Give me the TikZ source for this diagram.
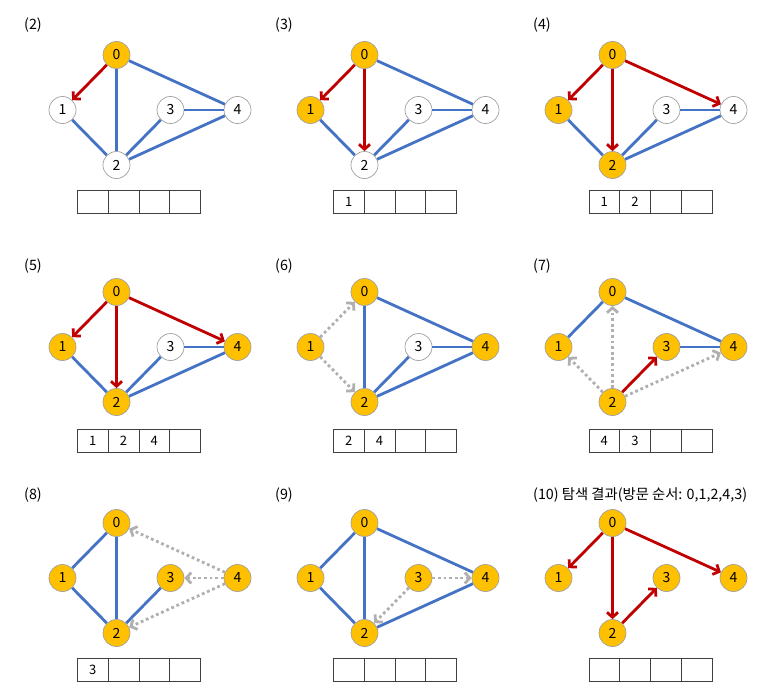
\documentclass[tikz,border=0pt]{standalone}
\usepackage{fontspec}
\setmainfont{Noto Sans CJK KR}
\usetikzlibrary{arrows.meta}
\definecolor{vorange}{HTML}{FFC000}
\definecolor{vgray}{HTML}{A0A0A0}
\definecolor{eblue}{HTML}{4472C4}
\definecolor{ered}{HTML}{C00000}
\definecolor{edot}{HTML}{B0B0B0}
\definecolor{qline}{HTML}{404040}
\tikzset{
  vx/.style={circle, draw=vgray, line width=0.7pt, minimum size=27pt, inner sep=0pt, font=\fontsize{14}{16}\selectfont},
  vis/.style={fill=vorange},
  unv/.style={fill=white},
  bl/.style={draw=eblue, line width=2.8pt},
  rd/.style={draw=ered, line width=2.8pt, -{Straight Barb[length=5pt,width=11pt]}},
  gd/.style={draw=edot, line width=2.8pt, dash pattern=on 2.8pt off 2.8pt, -{Straight Barb[length=5pt,width=11pt]}},
  cell/.style={draw=qline, line width=0.8pt, minimum width=30.75pt, minimum height=23pt, inner sep=0pt, anchor=north west, font=\fontsize{13}{15}\selectfont},
  ttl/.style={anchor=west, inner sep=0pt, font=\fontsize{14.3}{16}\selectfont},
}
\newcommand{\gnodes}[6]{%
  \node[vx,#2] (#1-0) at (0,0) {0};
  \node[vx,#3] (#1-1) at (-54,55) {1};
  \node[vx,#4] (#1-2) at (0,110) {2};
  \node[vx,#5] (#1-3) at (54,55) {3};
  \node[vx,#6] (#1-4) at (121,55) {4};}
\newcommand{\qbox}[7]{%
  \node[cell] (#1-q1) at (#2,#3) {#4};
  \node[cell] (#1-q2) at (#2+30.75,#3) {#5};
  \node[cell] (#1-q3) at (#2+61.5,#3) {#6};
  \node[cell] (#1-q4) at (#2+92.25,#3) {#7};}
\begin{document}
\begin{tikzpicture}[x=1pt,y=-1pt]
\useasboundingbox (0,0) rectangle (767,698);
% titles
\node[ttl] (t2) at (24,25) {(2)};
\node[ttl] (t3) at (275,25) {(3)};
\node[ttl] (t4) at (533,25) {(4)};
\node[ttl] (t5) at (24,266) {(5)};
\node[ttl] (t6) at (275,266) {(6)};
\node[ttl] (t7) at (533,266) {(7)};
\node[ttl] (t8) at (24,495) {(8)};
\node[ttl] (t9) at (275,495) {(9)};
\node[ttl] (t10) at (533,495) {(10) 탐색 결과(방문 순서: 0,1,2,4,3)};
% panel 2
\begin{scope}[shift={(116.5,55)}]
\gnodes{a}{vis}{unv}{unv}{unv}{unv}
\end{scope}
\draw[bl] (a-0) -- (a-2);
\draw[bl] (a-0) -- (a-4);
\draw[bl] (a-1) -- (a-2);
\draw[bl] (a-2) -- (a-3);
\draw[bl] (a-2) -- (a-4);
\draw[bl] (a-3) -- (a-4);
\draw[rd] (a-0) -- (a-1);
\qbox{a}{77}{190}{}{}{}{}
% panel 3
\begin{scope}[shift={(364.5,55)}]
\gnodes{b}{vis}{vis}{unv}{unv}{unv}
\end{scope}
\draw[bl] (b-0) -- (b-4);
\draw[bl] (b-1) -- (b-2);
\draw[bl] (b-2) -- (b-3);
\draw[bl] (b-2) -- (b-4);
\draw[bl] (b-3) -- (b-4);
\draw[rd] (b-0) -- (b-1);
\draw[rd] (b-0) -- (b-2);
\qbox{b}{333}{190}{1}{}{}{}
% panel 4
\begin{scope}[shift={(612.5,55)}]
\gnodes{c}{vis}{vis}{vis}{unv}{unv}
\end{scope}
\draw[bl] (c-1) -- (c-2);
\draw[bl] (c-2) -- (c-3);
\draw[bl] (c-2) -- (c-4);
\draw[bl] (c-3) -- (c-4);
\draw[rd] (c-0) -- (c-1);
\draw[rd] (c-0) -- (c-2);
\draw[rd] (c-0) -- (c-4);
\qbox{c}{588.5}{190}{1}{2}{}{}
% panel 5
\begin{scope}[shift={(116.5,292)}]
\gnodes{d}{vis}{vis}{vis}{unv}{vis}
\end{scope}
\draw[bl] (d-1) -- (d-2);
\draw[bl] (d-2) -- (d-3);
\draw[bl] (d-2) -- (d-4);
\draw[bl] (d-3) -- (d-4);
\draw[rd] (d-0) -- (d-1);
\draw[rd] (d-0) -- (d-2);
\draw[rd] (d-0) -- (d-4);
\qbox{d}{77}{428.5}{1}{2}{4}{}
% panel 6
\begin{scope}[shift={(364.5,292)}]
\gnodes{e}{vis}{vis}{vis}{unv}{vis}
\end{scope}
\draw[bl] (e-0) -- (e-2);
\draw[bl] (e-0) -- (e-4);
\draw[bl] (e-2) -- (e-3);
\draw[bl] (e-2) -- (e-4);
\draw[bl] (e-3) -- (e-4);
\draw[gd] (e-1) -- (e-0);
\draw[gd] (e-1) -- (e-2);
\qbox{e}{333}{428.5}{2}{4}{}{}
% panel 7
\begin{scope}[shift={(612.5,292)}]
\gnodes{f}{vis}{vis}{vis}{vis}{vis}
\end{scope}
\draw[bl] (f-0) -- (f-1);
\draw[bl] (f-0) -- (f-4);
\draw[bl] (f-3) -- (f-4);
\draw[gd] (f-2) -- (f-0);
\draw[gd] (f-2) -- (f-1);
\draw[gd] (f-2) -- (f-4);
\draw[rd] (f-2) -- (f-3);
\qbox{f}{588.5}{428.5}{4}{3}{}{}
% panel 8
\begin{scope}[shift={(116.5,523)}]
\gnodes{g}{vis}{vis}{vis}{vis}{vis}
\end{scope}
\draw[bl] (g-0) -- (g-1);
\draw[bl] (g-0) -- (g-2);
\draw[bl] (g-1) -- (g-2);
\draw[bl] (g-2) -- (g-3);
\draw[gd] (g-4) -- (g-0);
\draw[gd] (g-4) -- (g-3);
\draw[gd] (g-4) -- (g-2);
\qbox{g}{77}{658}{3}{}{}{}
% panel 9
\begin{scope}[shift={(364.5,523)}]
\gnodes{h}{vis}{vis}{vis}{vis}{vis}
\end{scope}
\draw[bl] (h-0) -- (h-1);
\draw[bl] (h-0) -- (h-2);
\draw[bl] (h-0) -- (h-4);
\draw[bl] (h-1) -- (h-2);
\draw[bl] (h-2) -- (h-4);
\draw[gd] (h-3) -- (h-4);
\draw[gd] (h-3) -- (h-2);
\qbox{h}{333}{658}{}{}{}{}
% panel 10
\begin{scope}[shift={(612.5,523)}]
\gnodes{k}{vis}{vis}{vis}{vis}{vis}
\end{scope}
\draw[rd] (k-0) -- (k-1);
\draw[rd] (k-0) -- (k-2);
\draw[rd] (k-0) -- (k-4);
\draw[rd] (k-2) -- (k-3);
\qbox{k}{588.5}{658}{}{}{}{}
\end{tikzpicture}
\end{document}
